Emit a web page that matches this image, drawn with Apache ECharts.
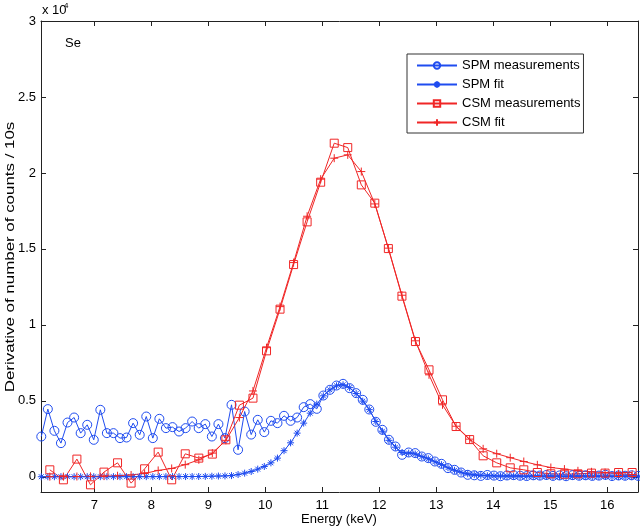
<!DOCTYPE html>
<html>
<head>
<meta charset="utf-8">
<script src="https://cdn.jsdelivr.net/npm/echarts@6/dist/echarts.min.js"></script>
<style>
html,body{margin:0;padding:0;background:#fff;}
#chart{width:640px;height:528px;}
</style>
</head>
<body>
<div id="chart"></div>
<script>
// ---- data ----
var spmEnergy = [6.070,6.185,6.300,6.415,6.530,6.646,6.761,6.876,6.991,7.106,7.221,7.336,7.451,7.566,7.681,7.797,7.912,8.027,8.142,8.257,8.372,8.487,8.602,8.717,8.832,8.948,9.063,9.178,9.293,9.408,9.523,9.638,9.753,9.868,9.983,10.099,10.214,10.329,10.444,10.559,10.674,10.789,10.904,11.019,11.134,11.250,11.365,11.480,11.595,11.710,11.825,11.940,12.055,12.170,12.285,12.401,12.516,12.631,12.746,12.861,12.976,13.091,13.206,13.321,13.436,13.552,13.667,13.782,13.897,14.012,14.127,14.242,14.357,14.472,14.587,14.703,14.818,14.933,15.048,15.163,15.278,15.393,15.508,15.623,15.738,15.854,15.969,16.084,16.199,16.314,16.429,16.544];
var spmMeasured = [2650,4455,3027,2217,3573,3902,2875,3422,2435,4409,2875,2875,2546,2586,3533,2764,3968,2546,3816,3204,3270,2981,3204,3639,3204,3468,2652,3468,2546,4738,1777,4297,2780,3750,2941,3685,3533,4014,3685,3902,4586,4784,4474,5350,5725,6008,6119,5836,5507,5067,4430,3620,3093,2435,1994,1448,1600,1560,1336,1230,1007,855,572,460,283,132,100,60,120,80,40,90,110,70,50,100,80,120,60,90,40,110,70,100,60,80,130,50,90,70,100,60];
var spmFit = [5,5,5,6,6,6,7,7,7,8,8,8,9,9,10,10,11,12,13,14,15,16,17,18,20,28,38,50,60,80,150,240,350,505,680,920,1230,1720,2237,2875,3533,4190,4784,5330,5725,5988,6054,5870,5480,4980,4420,3640,3000,2400,1950,1600,1560,1500,1330,1180,990,800,600,430,300,200,140,100,70,55,48,42,38,35,32,30,28,26,25,24,23,22,21,20,20,19,19,18,18,17,17,16];
var csmEnergy = [6.220,6.458,6.695,6.933,7.170,7.408,7.646,7.883,8.121,8.358,8.596,8.834,9.071,9.309,9.546,9.784,10.022,10.259,10.497,10.734,10.972,11.210,11.447,11.685,11.922,12.160,12.398,12.635,12.873,13.110,13.348,13.586,13.823,14.061,14.298,14.536,14.774,15.011,15.249,15.486,15.724,15.962,16.199,16.437];
var csmMeasured = [460,-197,1165,-526,309,921,-415,526,1625,-197,1513,1230,1494,2435,4715,5178,8291,11035,13969,16779,19391,21957,21668,19214,18010,15022,11890,8903,7041,5067,3310,2450,1382,920,590,460,283,197,170,197,243,243,283,283];
var csmFit = [10,15,20,30,45,70,120,220,420,550,800,1120,1560,2400,3900,5650,8500,11200,14100,17150,19590,20970,21190,20090,17960,15050,11950,8950,6712,4738,3330,2480,1842,1520,1260,1007,790,612,507,395,329,283,197,150];
var seriesNames = ['SPM measurements','SPM fit','CSM measurements','CSM fit'];
var xTicks = [7,8,9,10,11,12,13,14,15,16];
var yTicks = [0,5000,10000,15000,20000,25000,30000];
var yTickLabels = ['0','0.5','1','1.5','2','2.5','3'];

// ---- chart ----
function zip(xs, ys){ return xs.map(function(x,i){ return [x, ys[i]]; }); }
var BLUE = '#1f4cf0', RED = '#f02626', AX = '#222';
var FONT = 'Liberation Sans, Arial, sans-serif';
var plusPath = 'path://M0,5L10,5M5,0L5,10';
var starPath = 'path://M0,5L10,5M5,0L5,10M1.5,1.5L8.5,8.5M1.5,8.5L8.5,1.5';

function lineSeries(name, data, color, symbol, size){
  return {
    name: name, type: 'line', data: data, symbol: symbol, symbolSize: size,
    showAllSymbol: true, clip: false, animation: false,
    lineStyle: {color: color, width: 1},
    itemStyle: {color: 'rgba(0,0,0,0)', borderColor: color, borderWidth: 1},
    emphasis: {disabled: true}
  };
}

var xMin = 6.065, xMax = 16.54, yMin = -1000, yMax = 30000;
var tickCommon = {show: true, inside: true, length: 5, lineStyle: {color: AX}};

var option = {
  animation: false,
  backgroundColor: '#fff',
  grid: {left: 41, right: 2, top: 21, bottom: 36, outerBoundsMode: 'none', containLabel: false},
  legend: {
    show: true, orient: 'vertical', left: 407, top: 54,
    padding: [5, 3, 4, 9], itemGap: 6, itemWidth: 40, itemHeight: 8,
    borderColor: '#333', borderWidth: 1, backgroundColor: '#fff',
    textStyle: {fontFamily: FONT, fontSize: 13, color: '#000'},
    data: seriesNames
  },
  xAxis: [{
    type: 'value', min: xMin, max: xMax, position: 'bottom',
    axisLine: {show: true, onZero: false, lineStyle: {color: AX}},
    axisTick: Object.assign({customValues: xTicks}, tickCommon),
    axisLabel: {customValues: xTicks, margin: 7, fontFamily: FONT, fontSize: 13, color: '#000'},
    splitLine: {show: false}
  }, {
    type: 'value', min: xMin, max: xMax, position: 'top',
    axisLine: {show: true, onZero: false, lineStyle: {color: AX}},
    axisTick: Object.assign({customValues: xTicks}, tickCommon),
    axisLabel: {show: false},
    splitLine: {show: false}
  }],
  yAxis: [{
    type: 'value', min: yMin, max: yMax, position: 'left',
    axisLine: {show: true, onZero: false, lineStyle: {color: AX}},
    axisTick: Object.assign({customValues: yTicks}, tickCommon),
    axisLabel: {customValues: yTicks, margin: 5, fontFamily: FONT, fontSize: 13, color: '#000',
      formatter: function(v){ var i = yTicks.indexOf(v); return i >= 0 ? yTickLabels[i] : ''; }},
    splitLine: {show: false}
  }, {
    type: 'value', min: yMin, max: yMax, position: 'right',
    axisLine: {show: true, onZero: false, lineStyle: {color: AX}},
    axisTick: Object.assign({customValues: yTicks}, tickCommon),
    axisLabel: {show: false},
    splitLine: {show: false}
  }],
  graphic: [
    {type: 'text', x: 339, y: 519, style: {text: 'Energy (keV)', fontFamily: FONT, fontSize: 13, fill: '#000', align: 'center', verticalAlign: 'middle'}},
    {type: 'text', x: 10, y: 257, rotation: Math.PI / 2, scaleX: 1.3, style: {text: 'Derivative of number of counts / 10s', fontFamily: FONT, fontSize: 13, fill: '#000', align: 'center', verticalAlign: 'middle'}},
    {type: 'text', left: 42, top: 4, style: {text: 'x 10', fontFamily: FONT, fontSize: 13, fill: '#000'}},
    {type: 'text', left: 64, top: 2, style: {text: '4', fontFamily: FONT, fontSize: 8, fill: '#000'}},
    {type: 'text', left: 65, top: 37, style: {text: 'Se', fontFamily: FONT, fontSize: 13, fill: '#000'}}
  ],
  series: [
    lineSeries(seriesNames[0], zip(spmEnergy, spmMeasured), BLUE, 'circle', 9),
    lineSeries(seriesNames[1], zip(spmEnergy, spmFit), BLUE, starPath, 7),
    lineSeries(seriesNames[2], zip(csmEnergy, csmMeasured), RED, 'rect', 8),
    lineSeries(seriesNames[3], zip(csmEnergy, csmFit), RED, plusPath, 8)
  ]
};
var chart = echarts.init(document.getElementById('chart'), null, {renderer: 'canvas'});
chart.setOption(option);
</script>
</body>
</html>
